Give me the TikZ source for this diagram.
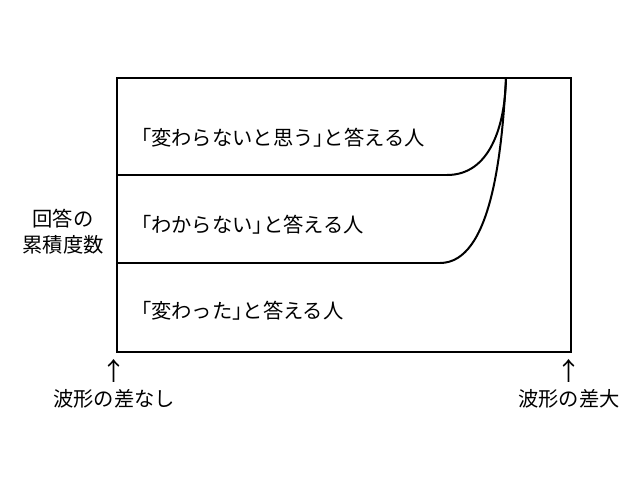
\documentclass[tikz,border=0pt]{standalone}
\usepackage{fontspec}
\setmainfont[RawFeature=+halt]{Noto Sans CJK JP}
\usepackage{tikz}

\begin{document}
\begin{tikzpicture}[x=1pt, y=-1pt,
	lbl/.style={inner sep=0pt, font=\fontsize{20.3}{24}\selectfont},
	uparr/.style={inner sep=0pt, font=\fontsize{25}{28}\selectfont},
	box/.style={line width=2.4pt},
	crv/.style={line width=2pt}]
	\useasboundingbox (0,0) rectangle (640,480);
	\draw[box] (117,78) rectangle (571,352);
	% band boundaries
	\coordinate (top) at (506,78);
	\coordinate (a) at (117,175);
	\coordinate (a1) at (447,175);
	\coordinate (b) at (117,263);
	\coordinate (b1) at (440,263);
	\draw[box] (a) -- (a1);
	\draw[box] (b) -- (b1);
	\draw[crv] (a1) .. controls (490,175) and (505,126) .. (top);
	\draw[crv] (b1) .. controls (492,263) and (502,150) .. (top);
	% band labels
	\node[lbl, anchor=west] (same) at (141,138) {「変わらないと思う」と答える人};
	\node[lbl, anchor=west] (unk) at (141,225) {「わからない」と答える人};
	\node[lbl, anchor=west] (chg) at (141,311) {「変わった」と答える人};
	% axes
	\node[lbl] (yl1) at (63,219) {回答の};
	\node[lbl] (yl2) at (63,245) {累積度数};
	\node[uparr] (arl) at (114,371) {↑};
	\node[uparr] (arr) at (569,371) {↑};
	\node[lbl] (xl) at (114,399) {波形の差なし};
	\node[lbl] (xr) at (569,399) {波形の差大};
\end{tikzpicture}
\end{document}
